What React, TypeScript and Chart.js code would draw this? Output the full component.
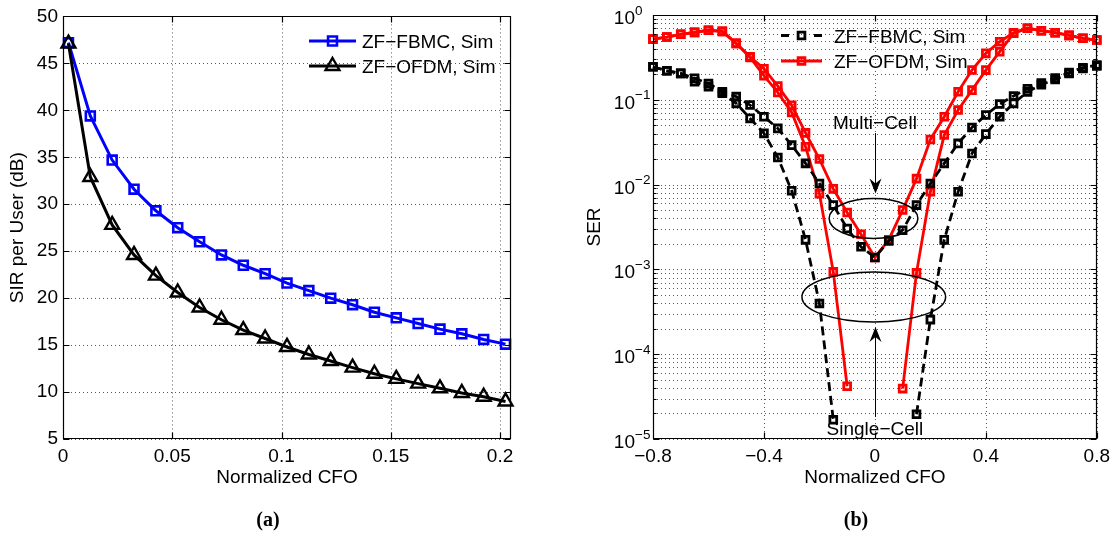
import React, { useEffect, useRef } from "react";
import { Chart, registerables } from "chart.js";

Chart.register(...registerables);

const SANS = '"Liberation Sans", Arial, Helvetica, sans-serif';
const SERIF = '"Liberation Serif", "Times New Roman", serif';

// ---------------- Panel (a) ----------------
const cfoA = [0.0025, 0.0125, 0.0225, 0.0325, 0.0425, 0.0525, 0.0625, 0.0725, 0.0825, 0.0925, 0.1025,
  0.1125, 0.1225, 0.1325, 0.1425, 0.1525, 0.1625, 0.1725, 0.1825, 0.1925, 0.2025];
const sirFBMC = [47.2, 39.4, 34.7, 31.6, 29.3, 27.5, 26.0, 24.6, 23.5, 22.6, 21.6,
  20.8, 20.0, 19.3, 18.5, 17.9, 17.3, 16.7, 16.2, 15.6, 15.1];
const sirOFDM = [47.1, 32.9, 27.8, 24.6, 22.4, 20.6, 19.0, 17.7, 16.6, 15.7, 14.8,
  14.0, 13.3, 12.6, 11.95, 11.4, 10.9, 10.4, 9.9, 9.5, 9.0];
const xTicksA = [0, 0.05, 0.1, 0.15, 0.2];
const yTicksA = [5, 10, 15, 20, 25, 30, 35, 40, 45, 50];
const legendA = ["ZF\u2212FBMC, Sim", "ZF\u2212OFDM, Sim"];
const xTitleA = "Normalized CFO";
const yTitleA = "SIR per User (dB)";

// ---------------- Panel (b) ----------------
const cfoB = [-0.8, -0.75, -0.7, -0.65, -0.6, -0.55, -0.5, -0.45, -0.4, -0.35, -0.3, -0.25, -0.2, -0.15, -0.1, -0.05,
  0, 0.05, 0.1, 0.15, 0.2, 0.25, 0.3, 0.35, 0.4, 0.45, 0.5, 0.55, 0.6, 0.65, 0.7, 0.75, 0.8];
const serFBMCMulti = [0.245, 0.22, 0.205, 0.179, 0.156, 0.124, 0.109, 0.0867, 0.0631, 0.046, 0.0292, 0.0178, 0.0103,
  0.00573, 0.00304, 0.00185, 0.00138, 0.00217, 0.0029, 0.00573, 0.0103, 0.0178, 0.0306, 0.0472, 0.0661, 0.0891,
  0.111, 0.135, 0.158, 0.18, 0.209, 0.239, 0.257];
const serFBMCSingle = [0.245, 0.22, 0.205, 0.163, 0.143, 0.12, 0.0908, 0.0604, 0.0402, 0.0209, 0.00845, 0.00223,
  0.000396, 0.0000169, null, null, null, null, null, 0.0000196, 0.000256, 0.00223, 0.00822, 0.0233, 0.0394, 0.0631,
  0.0908, 0.124, 0.151, 0.174, 0.204, 0.234, 0.251];
const serOFDMMulti = [0.52, 0.55, 0.592, 0.624, 0.661, 0.641, 0.463, 0.322, 0.232, 0.145, 0.0861, 0.0407, 0.02,
  0.00891, 0.00468, 0.0026, 0.00138, 0.00224, 0.00501, 0.01175, 0.0341, 0.0631, 0.1245, 0.2244, 0.353, 0.484, 0.618,
  0.697, 0.653, 0.618, 0.575, 0.531, 0.507];
const serOFDMSingle = [0.52, 0.55, 0.592, 0.624, 0.661, 0.641, 0.463, 0.316, 0.193, 0.122, 0.0708, 0.028, 0.00782,
  0.000935, 0.0000419, null, null, null, 0.0000393, 0.00091, 0.00822, 0.0384, 0.0757, 0.13, 0.224, 0.369, 0.608,
  0.697, 0.653, 0.618, 0.575, 0.531, 0.507];
const xTicksB = [-0.8, -0.4, 0, 0.4, 0.8];
const decadesB = [-5, -4, -3, -2, -1, 0];
const legendB = ["ZF\u2212FBMC, Sim", "ZF\u2212OFDM, Sim"];
const xTitleB = "Normalized CFO";
const yTitleB = "SER";
const noteMulti = "Multi\u2212Cell";
const noteSingle = "Single\u2212Cell";
const panelLabels = ["(a)", "(b)"];

// annotation geometry (in data coordinates)
const ellipseMulti = { x0: -0.165, x1: 0.155, y0: 0.00232, y1: 0.00687 };
const ellipseSingle = { x0: -0.263, x1: 0.255, y0: 0.00024, y1: 0.000935 };
const arrowMulti = { x: 0, from: 0.0405, to: 0.00787 };
const arrowSingle = { x: 0, from: 0.0000182, to: 0.00021 };
const noteMultiPos = { x: 0, y: 0.0452 };
const noteSinglePos = { x: 0, y: 0.00001106 };

const minorB: number[] = [];
decadesB.slice(0, -1).forEach((e) => {
  for (let m = 2; m <= 9; m++) minorB.push(Number((m * Math.pow(10, e)).toPrecision(3)));
});
const majorB = decadesB.map((e) => Math.pow(10, e));

const pts = (xs: number[], ys: (number | null)[]) => xs.map((x, i) => ({ x, y: ys[i] }));
const fmt = (v: number) => String(Number(v.toFixed(4))).replace("-", "\u2212");

function drawMarker(ctx: CanvasRenderingContext2D, style: string, x: number, y: number, r: number) {
  ctx.beginPath();
  if (style === "rect") {
    const s = r * Math.SQRT1_2;
    ctx.rect(x - s, y - s, 2 * s, 2 * s);
  } else {
    for (let k = 0; k < 3; k++) {
      const a = (k * 2 * Math.PI) / 3;
      const px = x + Math.sin(a) * r;
      const py = y - Math.cos(a) * r;
      if (k === 0) ctx.moveTo(px, py);
      else ctx.lineTo(px, py);
    }
    ctx.closePath();
  }
  ctx.stroke();
}

type Frame = {
  xGrid: number[];
  yGrid: number[];
  xTicks: number[];
  yMajor: number[];
  yMinor: number[];
  extra: (chart: any) => void;
};

const framePlugin = (f: Frame) => ({
  id: "frame",
  beforeDatasetsDraw(chart: any) {
    const { ctx, chartArea: a, scales } = chart;
    const xs = scales.x;
    const ys = scales.y;
    ctx.save();
    ctx.strokeStyle = "rgba(0,0,0,0.65)";
    ctx.lineWidth = 1;
    ctx.setLineDash([1, 3]);
    ctx.beginPath();
    f.xGrid.forEach((v) => {
      const p = Math.round(xs.getPixelForValue(v)) + 0.5;
      ctx.moveTo(p, a.top);
      ctx.lineTo(p, a.bottom);
    });
    f.yGrid.forEach((v) => {
      const p = Math.round(ys.getPixelForValue(v)) + 0.5;
      ctx.moveTo(a.left, p);
      ctx.lineTo(a.right, p);
    });
    ctx.stroke();
    ctx.restore();
  },
  afterDatasetsDraw(chart: any) {
    const { ctx, chartArea: a, scales } = chart;
    const xs = scales.x;
    const ys = scales.y;
    ctx.save();
    ctx.setLineDash([]);
    ctx.strokeStyle = "#000";
    ctx.lineWidth = 1.2;
    const L = Math.round(a.left) + 0.5;
    const R = Math.round(a.right) - 0.5;
    const T = Math.round(a.top) + 0.5;
    const B = Math.round(a.bottom) - 0.5;
    ctx.beginPath();
    ctx.rect(L, T, R - L, B - T);
    f.xTicks.forEach((v) => {
      const p = Math.round(xs.getPixelForValue(v)) + 0.5;
      ctx.moveTo(p, B);
      ctx.lineTo(p, B - 6);
      ctx.moveTo(p, T);
      ctx.lineTo(p, T + 6);
    });
    const yt = (v: number, len: number) => {
      const p = Math.round(ys.getPixelForValue(v)) + 0.5;
      ctx.moveTo(L, p);
      ctx.lineTo(L + len, p);
      ctx.moveTo(R, p);
      ctx.lineTo(R - len, p);
    };
    f.yMajor.forEach((v) => yt(v, 6));
    f.yMinor.forEach((v) => yt(v, 3));
    ctx.stroke();
    ctx.restore();
    f.extra(chart);
  },
});

function drawLegend(
  ctx: CanvasRenderingContext2D,
  rows: { y: number; color: string; marker: string; r: number; bw: number; dashed: boolean; label: string }[],
  x0: number,
  x1: number,
  tx: number
) {
  ctx.save();
  rows.forEach((row) => {
    ctx.strokeStyle = row.color;
    ctx.lineWidth = 3;
    ctx.setLineDash([]);
    const mx = (x0 + x1) / 2;
    ctx.beginPath();
    if (row.dashed) {
      ctx.moveTo(x0, row.y);
      ctx.lineTo(x0 + 8, row.y);
      ctx.moveTo(x1 - 8, row.y);
      ctx.lineTo(x1, row.y);
    } else {
      ctx.moveTo(x0, row.y);
      ctx.lineTo(x1, row.y);
    }
    ctx.stroke();
    ctx.lineWidth = row.bw;
    drawMarker(ctx, row.marker, mx, row.y, row.r);
    ctx.fillStyle = "#000";
    ctx.font = `19px ${SANS}`;
    ctx.textAlign = "left";
    ctx.textBaseline = "alphabetic";
    ctx.fillText(row.label, tx, row.y + 7);
  });
  ctx.restore();
}

const tickFont = { family: SANS, size: 19 };
const titleFont = { family: SANS, size: 19 };

function configA(): any {
  return {
    type: "line",
    data: {
      datasets: [
        {
          label: legendA[0],
          data: pts(cfoA, sirFBMC),
          borderColor: "#0000ff",
          borderWidth: 3,
          pointStyle: "rect",
          pointRadius: 6.3,
          pointBorderWidth: 2.6,
          pointBorderColor: "#0000ff",
          pointBackgroundColor: "rgba(0,0,0,0)",
          tension: 0,
          order: 1,
          clip: false,
        },
        {
          label: legendA[1],
          data: pts(cfoA, sirOFDM),
          borderColor: "#000000",
          borderWidth: 3,
          pointStyle: "triangle",
          pointRadius: 8,
          pointBorderWidth: 2.4,
          pointBorderColor: "#000000",
          pointBackgroundColor: "rgba(0,0,0,0)",
          tension: 0,
          order: 0,
          clip: false,
        },
      ],
    },
    options: {
      animation: false,
      responsive: false,
      maintainAspectRatio: false,
      events: [],
      layout: { padding: { left: 0, top: 15, right: 49, bottom: 0 } },
      plugins: { legend: { display: false }, tooltip: { enabled: false } },
      scales: {
        x: {
          type: "linear",
          min: 0,
          max: 0.205,
          afterBuildTicks: (s: any) => {
            s.ticks = xTicksA.map((v) => ({ value: v }));
          },
          afterFit: (s: any) => {
            s.height = 97;
          },
          grid: { display: false, drawTicks: false, tickLength: 0 },
          border: { display: false },
          ticks: { font: tickFont, color: "#000", padding: 6, autoSkip: false, maxRotation: 0, callback: (v: number) => fmt(v) },
          title: { display: true, text: xTitleA, font: titleFont, color: "#000", padding: { top: 0, bottom: 46.5 } },
        },
        y: {
          type: "linear",
          min: 5,
          max: 50,
          afterBuildTicks: (s: any) => {
            s.ticks = yTicksA.map((v) => ({ value: v }));
          },
          afterFit: (s: any) => {
            s.width = 63;
          },
          grid: { display: false, drawTicks: false, tickLength: 0 },
          border: { display: false },
          ticks: { font: tickFont, color: "#000", padding: 5, autoSkip: false, callback: (v: number) => fmt(v) },
          title: { display: true, text: yTitleA, font: titleFont, color: "#000", padding: { top: 6.5, bottom: 0 } },
        },
      },
    },
    plugins: [
      framePlugin({
        xGrid: xTicksA,
        yGrid: yTicksA,
        xTicks: xTicksA,
        yMajor: yTicksA,
        yMinor: [],
        extra: (chart: any) => {
          drawLegend(
            chart.ctx,
            [
              { y: 41, color: "#0000ff", marker: "rect", r: 6.3, bw: 2.6, dashed: false, label: legendA[0] },
              { y: 66, color: "#000000", marker: "triangle", r: 8, bw: 2.4, dashed: false, label: legendA[1] },
            ],
            309,
            356,
            362
          );
        },
      }),
    ],
  };
}

function drawNotesB(chart: any) {
  const { ctx, scales } = chart;
  const xs = scales.x;
  const ys = scales.y;
  const a = chart.chartArea;
  ctx.save();
  ctx.setLineDash([]);
  ctx.strokeStyle = "#000";
  ctx.fillStyle = "#000";
  // y tick labels 10^k
  decadesB.forEach((e) => {
    const p = ys.getPixelForValue(Math.pow(10, e));
    const bx = a.left - 18;
    ctx.font = `19px ${SANS}`;
    ctx.textAlign = "right";
    ctx.textBaseline = "alphabetic";
    ctx.fillText("10", bx, p + 9);
    ctx.font = `13.5px ${SANS}`;
    ctx.textAlign = "left";
    ctx.fillText(e === 0 ? "0" : "\u2212" + Math.abs(e), bx, p - 0.5);
  });
  // ellipses
  ctx.lineWidth = 1.5;
  [ellipseMulti, ellipseSingle].forEach((el) => {
    const x0 = xs.getPixelForValue(el.x0);
    const x1 = xs.getPixelForValue(el.x1);
    const y0 = ys.getPixelForValue(el.y0);
    const y1 = ys.getPixelForValue(el.y1);
    ctx.beginPath();
    ctx.ellipse((x0 + x1) / 2, (y0 + y1) / 2, Math.abs(x1 - x0) / 2, Math.abs(y1 - y0) / 2, 0, 0, Math.PI * 2);
    ctx.stroke();
  });
  // arrows
  [arrowMulti, arrowSingle].forEach((ar) => {
    const px = Math.round(xs.getPixelForValue(ar.x)) + 0.5;
    const p0 = ys.getPixelForValue(ar.from);
    const p1 = ys.getPixelForValue(ar.to);
    const dir = Math.sign(p1 - p0);
    ctx.lineWidth = 1;
    ctx.beginPath();
    ctx.moveTo(px, p0);
    ctx.lineTo(px, p1 - dir * 8);
    ctx.stroke();
    ctx.beginPath();
    ctx.moveTo(px, p1);
    ctx.lineTo(px - 6, p1 - dir * 15);
    ctx.lineTo(px, p1 - dir * 10);
    ctx.lineTo(px + 6, p1 - dir * 15);
    ctx.closePath();
    ctx.fill();
  });
  // notes
  ctx.font = `19px ${SANS}`;
  ctx.textAlign = "center";
  ctx.textBaseline = "alphabetic";
  ctx.fillText(noteMulti, xs.getPixelForValue(noteMultiPos.x), ys.getPixelForValue(noteMultiPos.y));
  ctx.fillText(noteSingle, xs.getPixelForValue(noteSinglePos.x), ys.getPixelForValue(noteSinglePos.y));
  ctx.restore();
  drawLegend(
    ctx,
    [
      { y: 35.5, color: "#000000", marker: "rect", r: 4.8, bw: 2.8, dashed: true, label: legendB[0] },
      { y: 61, color: "#ff0000", marker: "rect", r: 4.8, bw: 2.8, dashed: false, label: legendB[1] },
    ],
    221,
    262,
    274
  );
}

function serSet(label: string, ys: (number | null)[], color: string, dashed: boolean, order: number) {
  return {
    label,
    data: pts(cfoB, ys),
    borderColor: color,
    borderWidth: 2.8,
    borderDash: dashed ? [9, 5] : [],
    pointStyle: "rect",
    pointRadius: 4.8,
    pointBorderWidth: 2.8,
    pointBorderColor: color,
    pointBackgroundColor: "rgba(0,0,0,0)",
    tension: 0,
    spanGaps: false,
    order,
    clip: false,
  };
}

function configB(): any {
  return {
    type: "line",
    data: {
      datasets: [
        serSet(legendB[0], serFBMCMulti, "#000000", true, 0),
        serSet(legendB[0], serFBMCSingle, "#000000", true, 1),
        serSet(legendB[1], serOFDMMulti, "#ff0000", false, 2),
        serSet(legendB[1], serOFDMSingle, "#ff0000", false, 3),
      ],
    },
    options: {
      animation: false,
      responsive: false,
      maintainAspectRatio: false,
      events: [],
      layout: { padding: { left: 0, top: 15, right: 15, bottom: 0 } },
      plugins: { legend: { display: false }, tooltip: { enabled: false } },
      scales: {
        x: {
          type: "linear",
          min: -0.8,
          max: 0.8,
          afterBuildTicks: (s: any) => {
            s.ticks = xTicksB.map((v) => ({ value: v }));
          },
          afterFit: (s: any) => {
            s.height = 97;
          },
          grid: { display: false, drawTicks: false, tickLength: 0 },
          border: { display: false },
          ticks: { font: tickFont, color: "#000", padding: 6, autoSkip: false, maxRotation: 0, callback: (v: number) => fmt(v) },
          title: { display: true, text: xTitleB, font: titleFont, color: "#000", padding: { top: 0, bottom: 46.5 } },
        },
        y: {
          type: "logarithmic",
          min: 1e-5,
          max: 1,
          afterBuildTicks: (s: any) => {
            s.ticks = [...majorB, ...minorB].sort((p, q) => p - q).map((v) => ({ value: v }));
          },
          afterFit: (s: any) => {
            s.width = 93;
          },
          grid: { display: false, drawTicks: false, tickLength: 0 },
          border: { display: false },
          ticks: { display: false },
          title: { display: true, text: yTitleB, font: titleFont, color: "#000", padding: { top: 23, bottom: 0 } },
        },
      },
    },
    plugins: [
      framePlugin({
        xGrid: xTicksB,
        yGrid: [...majorB, ...minorB],
        xTicks: xTicksB,
        yMajor: majorB,
        yMinor: minorB,
        extra: drawNotesB,
      }),
    ],
  };
}

export default function App() {
  const refA = useRef<HTMLCanvasElement>(null);
  const refB = useRef<HTMLCanvasElement>(null);
  useEffect(() => {
    const ca = new Chart(refA.current as HTMLCanvasElement, configA());
    const cb = new Chart(refB.current as HTMLCanvasElement, configB());
    return () => {
      ca.destroy();
      cb.destroy();
    };
  }, []);
  const lab = (text: string, cx: number) => (
    <div
      style={{
        position: "absolute",
        left: cx - 50,
        width: 100,
        top: 508,
        height: 22,
        lineHeight: "22px",
        textAlign: "center",
        font: `bold 20px ${SERIF}`,
        color: "#000",
      }}
    >
      {text}
    </div>
  );
  return (
    <div style={{ position: "absolute", left: 0, top: 0, width: 1116, height: 536, background: "#fff", overflow: "hidden" }}>
      <canvas ref={refA} width={560} height={536} style={{ position: "absolute", left: 0, top: 0, width: 560, height: 536 }} />
      <canvas ref={refB} width={556} height={536} style={{ position: "absolute", left: 560, top: 0, width: 556, height: 536 }} />
      {lab(panelLabels[0], 268)}
      {lab(panelLabels[1], 856)}
    </div>
  );
}
